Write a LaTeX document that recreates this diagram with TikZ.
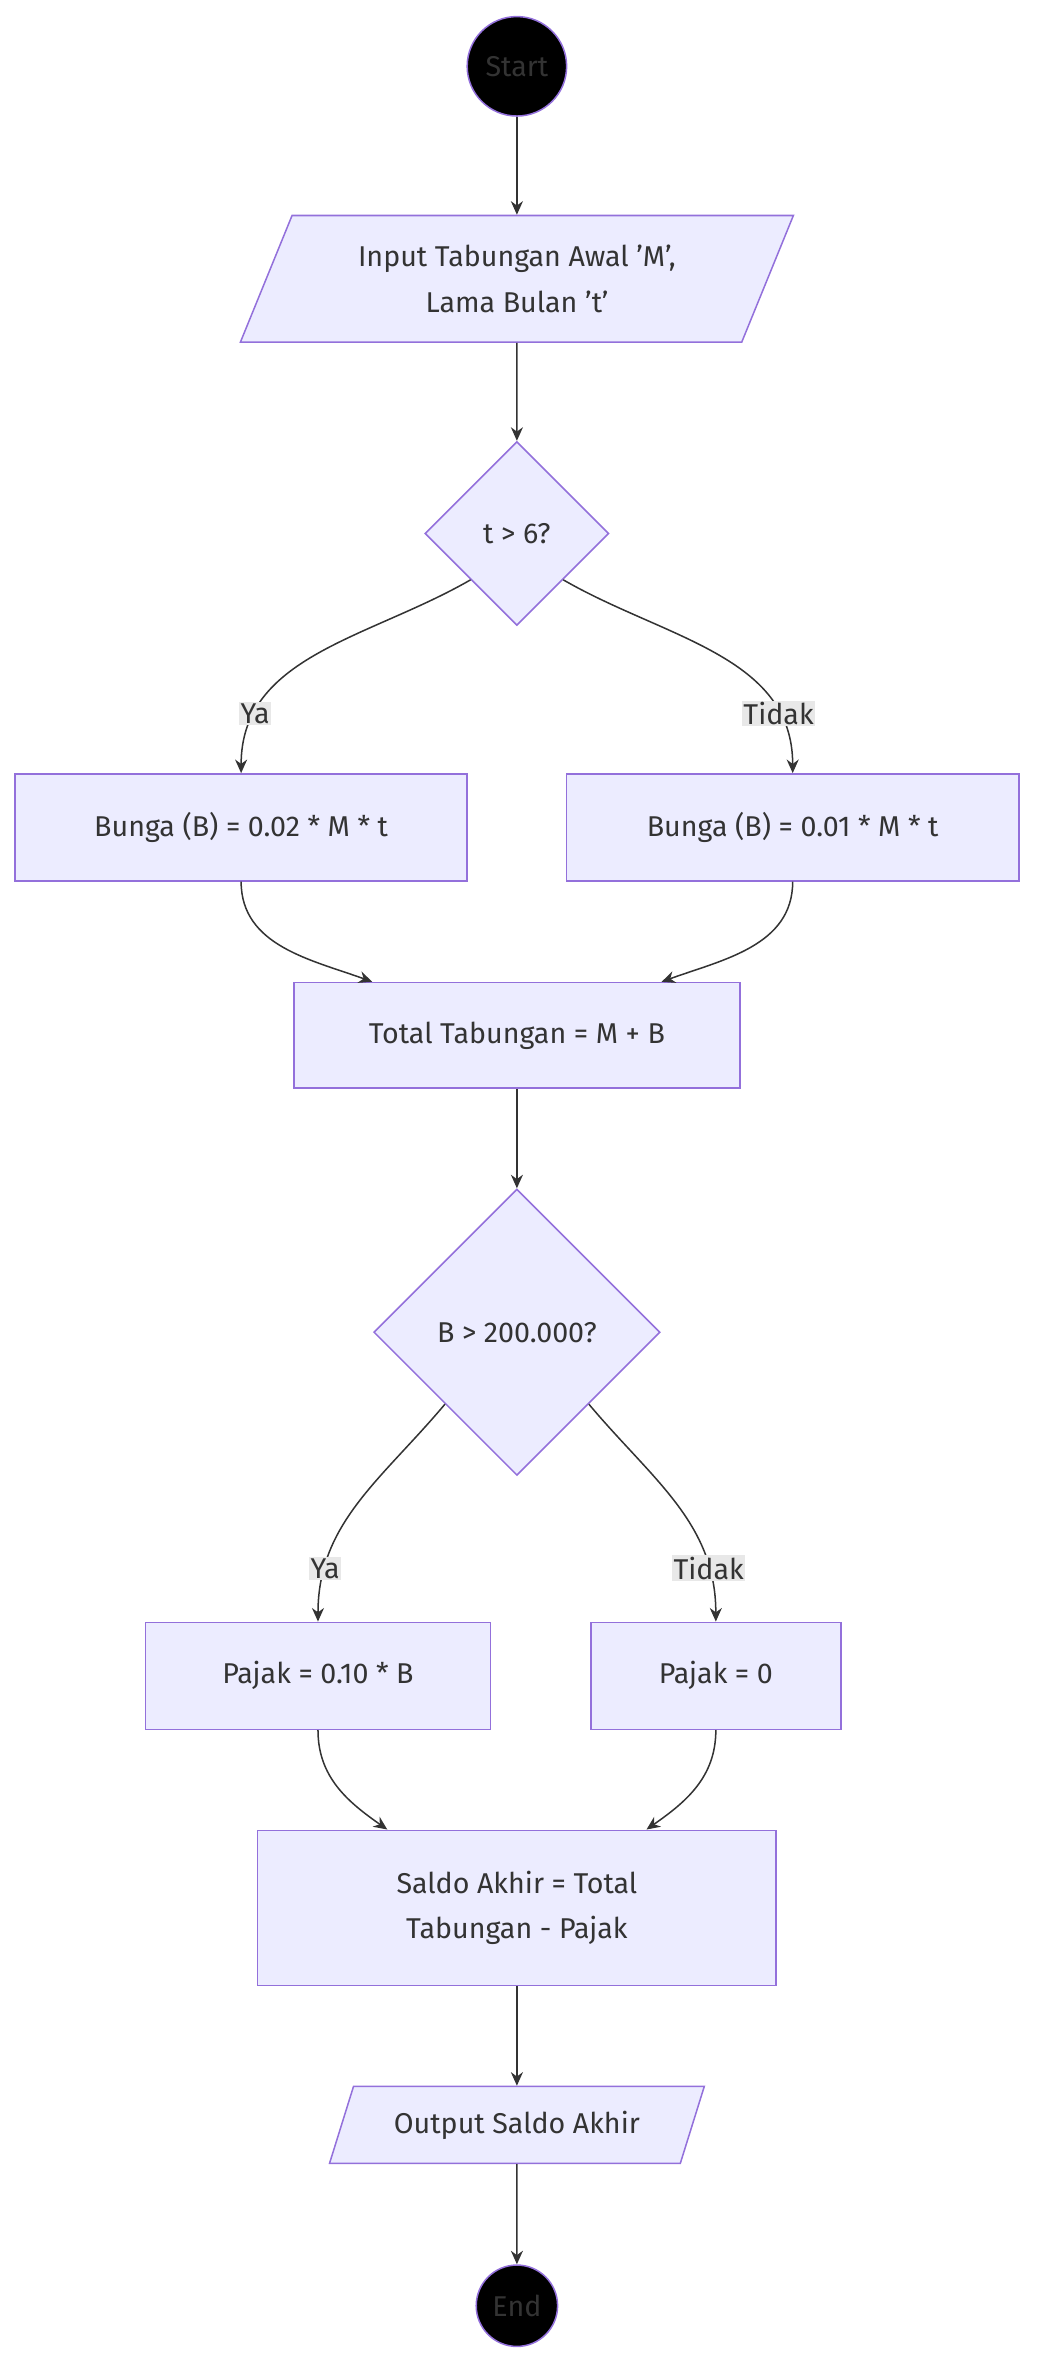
\documentclass[tikz,border=0pt]{standalone}
\usepackage{fontspec}
\setmainfont{Fira Sans}
\usetikzlibrary{shapes.geometric,arrows.meta}
\definecolor{boxfill}{HTML}{ECECFF}
\definecolor{boxline}{HTML}{9370DB}
\definecolor{ink}{HTML}{333333}
\definecolor{lblbg}{HTML}{E8E8E8}
\tikzset{
  box/.style={rectangle, draw=boxline, fill=boxfill, line width=1pt, text=ink, align=center},
  io/.style={trapezium, trapezium left angle=64, trapezium right angle=116, trapezium stretches=true,
    draw=boxline, fill=boxfill, line width=1pt, text=ink, align=center},
  cond/.style={diamond, aspect=1, draw=boxline, fill=boxfill, line width=1pt, text=ink, inner sep=0pt},
  term/.style={circle, draw=boxline, fill=black, line width=1pt, text=ink, inner sep=0pt},
  flow/.style={draw=ink, line width=1pt, -{Stealth[length=9pt,width=8pt]}},
  lbl/.style={fill=lblbg, text=ink, inner sep=1pt}
}
\begin{document}
\begin{tikzpicture}[x=1pt, y={(0,-1pt)}, font=\fontsize{19}{30}\selectfont]
  \useasboundingbox (0,0) rectangle (688,1570);

  \node[term, minimum size=66] (start) at (343,44) {Start};
  \node[io, minimum width=367, minimum height=84] (input) at (343,185) {Input Tabungan Awal 'M',\\ Lama Bulan 't'};
  \node[cond, minimum size=122] (c1) at (343,354) {t > 6?};
  \node[box, minimum width=300, minimum height=71] (b1) at (160,549) {Bunga (B) = 0.02 * M * t};
  \node[box, minimum width=300, minimum height=71] (b2) at (526,549) {Bunga (B) = 0.01 * M * t};
  \node[box, minimum width=296, minimum height=70] (total) at (343,687) {Total Tabungan = M + B};
  \node[cond, minimum size=190] (c2) at (343,884) {B > 200.000?};
  \node[box, minimum width=229, minimum height=71] (p1) at (211,1112) {Pajak = 0.10 * B};
  \node[box, minimum width=166, minimum height=71] (p2) at (475,1112) {Pajak = 0};
  \node[box, minimum width=344, minimum height=103] (saldo) at (343,1266) {Saldo Akhir = Total\\ Tabungan - Pajak};
  \node[io, minimum width=249, minimum height=51] (output) at (343,1410) {Output Saldo Akhir};
  \node[term, minimum size=54] (end) at (343,1530) {End};

  \draw[flow] (start) -- (input);
  \draw[flow] (input) -- (c1);
  \draw[flow] (c1.south west) to[out=-150,in=90] node[lbl, pos=0.8] {Ya} (b1.north);
  \draw[flow] (c1.south east) to[out=-30,in=90] node[lbl, pos=0.8] {Tidak} (b2.north);
  \draw[flow] (b1.south) to[out=-90,in=160] ([xshift=-96pt]total.north);
  \draw[flow] (b2.south) to[out=-90,in=20] ([xshift=96pt]total.north);
  \draw[flow] (total) -- (c2);
  \draw[flow] (c2.south west) to[out=-130,in=90] node[lbl, pos=0.8] {Ya} (p1.north);
  \draw[flow] (c2.south east) to[out=-50,in=90] node[lbl, pos=0.8] {Tidak} (p2.north);
  \draw[flow] (p1.south) to[out=-90,in=145] ([xshift=-86pt]saldo.north);
  \draw[flow] (p2.south) to[out=-90,in=35] ([xshift=86pt]saldo.north);
  \draw[flow] (saldo) -- (output);
  \draw[flow] (output) -- (end);
\end{tikzpicture}
\end{document}
